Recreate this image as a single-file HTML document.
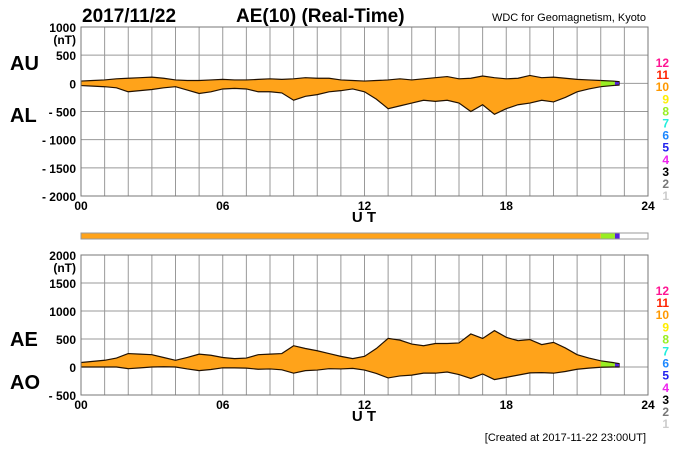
<!DOCTYPE html>
<html><head><meta charset="utf-8"><style>
body{margin:0;background:#fff;width:700px;height:450px;overflow:hidden}
svg{display:block;font-family:"Liberation Sans",Arial,sans-serif}
</style></head><body>
<svg id="c" width="700" height="450">
<text x="82" y="22" font-size="19" font-weight="bold">2017/11/22</text>
<text x="236" y="22" font-size="19" font-weight="bold">AE(10) (Real-Time)</text>
<text x="646" y="21" font-size="11" text-anchor="end">WDC for Geomagnetism, Kyoto</text>
<text x="10" y="70" font-size="20" font-weight="bold">AU</text>
<text x="10" y="122" font-size="20" font-weight="bold">AL</text>
<text x="10" y="346" font-size="20" font-weight="bold">AE</text>
<text x="10" y="389" font-size="20" font-weight="bold">AO</text>
<text x="364" y="222" font-size="15" font-weight="bold" text-anchor="middle">U T</text>
<text x="364" y="421" font-size="15" font-weight="bold" text-anchor="middle">U T</text>
<text x="646" y="441" font-size="11" text-anchor="end">[Created at 2017-11-22 23:00UT]</text>
<g id="g"></g>
</svg>
<script>
const hours=[0,0.5,1,1.5,2,2.5,3,3.5,4,4.5,5,5.5,6,6.5,7,7.5,8,8.5,9,9.5,10,10.5,11,11.5,12,12.5,13,13.5,14,14.5,15,15.5,16,16.5,17,17.5,18,18.5,19,19.5,20,20.5,21,21.5,22,22.5,22.8];
const au=[40,50,60,80,90,100,110,90,60,50,50,60,70,60,60,70,80,70,80,100,90,90,60,50,40,50,60,80,60,80,100,120,80,90,130,100,80,90,140,100,110,90,70,60,50,40,30];
const al=[-40,-50,-60,-80,-150,-130,-110,-80,-60,-120,-180,-150,-100,-90,-100,-150,-150,-170,-300,-230,-200,-150,-130,-100,-150,-280,-450,-400,-350,-300,-320,-300,-350,-500,-380,-550,-450,-380,-350,-300,-330,-250,-150,-100,-60,-40,-30];
const xTicks=["00","06","12","18","24"];
const topTicks=[1000,500,0,-500,-1000,-1500,-2000];
const botTicks=[2000,1500,1000,500,0,-500];
const legendNums=["12","11","10","9","8","7","6","5","4","3","2","1"];
const legendCols=["#ff1493","#ff2200","#ff9900","#ffee00","#99ee22","#22eedd","#1e88ff","#2222ee","#ee22ee","#000","#777","#ccc"];
const stations=[[0,22,"#ffa31a"],[22,22.6,"#99ee22"],[22.6,22.8,"#5522dd"]];
const NS="http://www.w3.org/2000/svg",G=document.getElementById('g');
const X0=81,X1=648;
const x=h=>X0+(X1-X0)*h/24;
function el(t,a,p){const e=document.createElementNS(NS,t);for(const k in a)e.setAttribute(k,a[k]);(p||G).appendChild(e);return e;}
function panel(id,top,bot,vmax,vmin,ticks,up,lo){
  const y=v=>top+(bot-top)*(vmax-v)/(vmax-vmin);
  const p=el('g',{});
  
  
  for(let h=0;h<=24;h++){el('line',{x1:x(h),x2:x(h),y1:top,y2:bot,stroke:'#999','stroke-width':1},p);}
  ticks.forEach((t,i)=>{el('line',{x1:X0,x2:X1,y1:y(t),y2:y(t),stroke:'#999'},p);
    const tx=el('text',{x:76,y:y(t)+5,'font-size':12,'font-weight':'bold','text-anchor':'end'},p);
    tx.textContent=(t<0?'- '+(-t):t);
    
    
    if(i==0){const u=el('text',{x:76,y:y(t)+17,'font-size':12,'font-weight':'bold','text-anchor':'end'},p);u.textContent='(nT)';}
  });
  xTicks.forEach((t,i)=>{const tx=el('text',{x:x(i*6),y:bot+14,'font-size':12,'font-weight':'bold','text-anchor':'middle'},p);tx.textContent=t;
    
    });
  let pts=hours.map((h,i)=>x(h)+','+y(up[i]));
  for(let i=hours.length-1;i>=0;i--)pts.push(x(hours[i])+','+y(lo[i]));
  stations.forEach((s,k)=>{
    const cp=el('clipPath',{id:id+'c'+k},p);el('rect',{x:x(s[0]),y:top,width:x(s[1])-x(s[0]),height:bot-top},cp);
    const pg=el('polygon',{points:pts.join(' '),fill:s[2],stroke:'#221100','stroke-width':1.2,'clip-path':'url(#'+id+'c'+k+')'},p);
    
    
  });
  el('rect',{x:X0,y:top,width:X1-X0,height:bot-top,fill:'none',stroke:'#777'},p);
  legendNums.forEach((n,i)=>{const t=el('text',{x:669,y:top+40+i*12.1,'font-size':12,'font-weight':'bold','text-anchor':'end',fill:legendCols[i]},p);t.textContent=n;
    
    });
}
panel('auAl',27,196,1000,-2000,topTicks,au,al);
const ae=au.map((v,i)=>v-al[i]), ao=au.map((v,i)=>(v+al[i])/2);
panel('aeAo',255,395,2000,-500,botTicks,ae,ao);
stations.forEach(s=>{const r=el('rect',{x:x(s[0]),y:233,width:x(s[1])-x(s[0]),height:6,fill:s[2]});
  
  });
el('rect',{x:X0,y:233,width:X1-X0,height:6,fill:'none',stroke:'#999'});
</script>
</body></html>
